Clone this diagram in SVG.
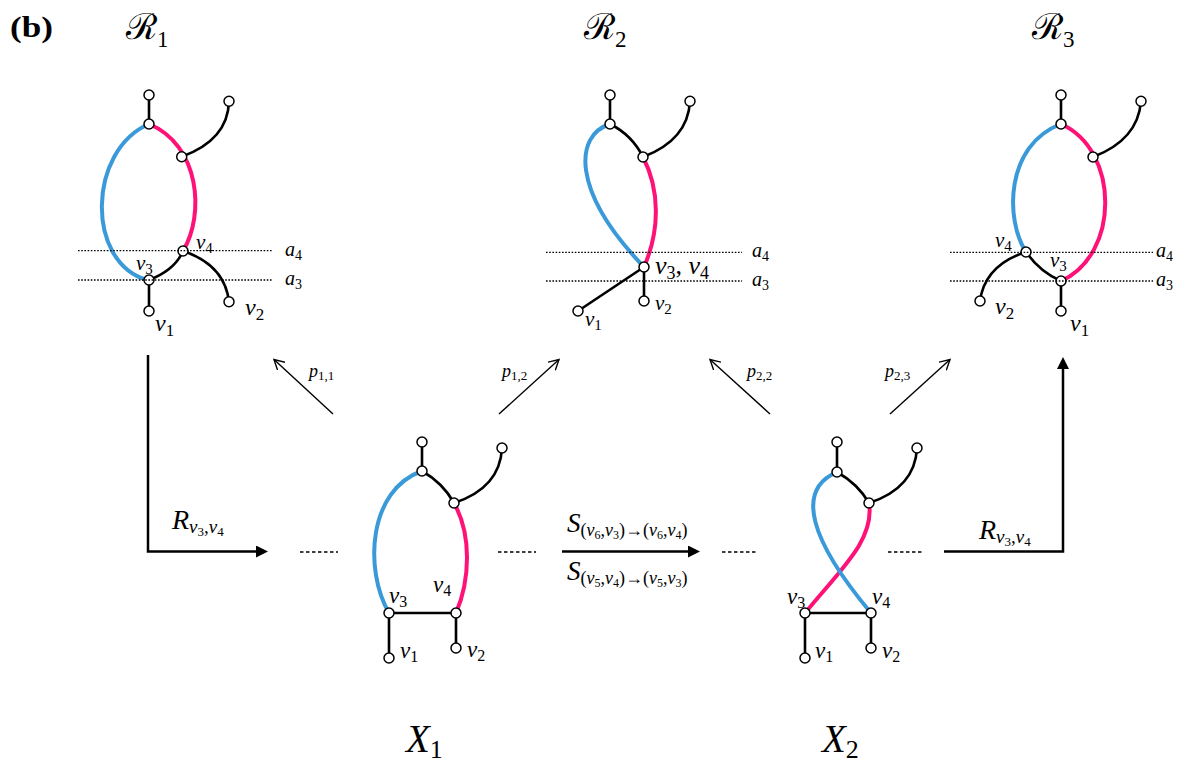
<svg xmlns="http://www.w3.org/2000/svg" width="1179" height="762" viewBox="0 0 1179 762">
<style>
.bl{fill:none;stroke:#3a9ad9;stroke-width:4;stroke-linecap:round}
.pk{fill:none;stroke:#ff1278;stroke-width:4;stroke-linecap:round}
.k{fill:none;stroke:#000;stroke-width:2.6;stroke-linecap:round}
.nd{fill:#fff;stroke:#000;stroke-width:1.5}
.dot{stroke:#000;stroke-width:1.3;stroke-dasharray:1.6 1.6;fill:none}
.dash{stroke:#000;stroke-width:1.3;stroke-dasharray:3.5 2.5;fill:none}
.ar{stroke:#000;stroke-width:2.5;fill:none}
.pr{stroke:#000;stroke-width:1.4;fill:none}
text{font-family:"Liberation Serif","DejaVu Serif",serif;fill:#000}
.m{font-style:italic}
.up{font-style:normal}
.v{font-size:24px}
.vs{font-size:21px}
.vx{font-size:23px}
.a{font-size:20px}
.p{font-size:18px}
.cal{font-family:"DejaVu Serif","Liberation Serif",serif;font-size:36px}
</style>
<defs>
<marker id="fa" viewBox="0 0 12 12" refX="0" refY="6" markerWidth="12" markerHeight="12" markerUnits="userSpaceOnUse" orient="auto"><path d="M0,0 L12,6 L0,12 z" fill="#000"/></marker>
<marker id="oa" viewBox="0 0 12 12" refX="10" refY="6" markerWidth="12" markerHeight="12" markerUnits="userSpaceOnUse" orient="auto"><path d="M0,0.5 L10,6 L0,11.5" fill="none" stroke="#000" stroke-width="1.4"/></marker>
</defs>
<rect width="1179" height="762" fill="#fff"/>

<text x="10" y="37" textLength="43" lengthAdjust="spacingAndGlyphs" style="font-size:29px;font-weight:bold">(b)</text>

<g id="R1">
<text class="cal" x="126" y="39">ℛ<tspan class="up" style="font-family:'Liberation Serif',serif;font-size:23px" dy="8">1</tspan></text>
<path class="bl" d="M149,124 C88,150 85,262 147,280"/>
<path class="pk" d="M149,124 C200,145 205,215 183,251"/>
<path class="k" d="M149,95 L149,124"/>
<path class="k" d="M181.7,156.7 Q228,140 229,101"/>
<path class="k" d="M149,280 Q175,270 183,251"/>
<path class="k" d="M183,251 Q225,265 229,302"/>
<path class="k" d="M149,280 L149,311"/>
<circle class="nd" cx="149" cy="95" r="5"/>
<circle class="nd" cx="149" cy="124" r="5"/>
<circle class="nd" cx="181.7" cy="156.7" r="5"/>
<circle class="nd" cx="229" cy="101.3" r="5"/>
<circle class="nd" cx="183" cy="251" r="5"/>
<circle class="nd" cx="149" cy="280" r="5"/>
<circle class="nd" cx="149" cy="311" r="5"/>
<circle class="nd" cx="229" cy="301.7" r="5"/>
<line class="dot" x1="78" y1="250.7" x2="273" y2="250.7"/>
<line class="dot" x1="78" y1="280" x2="273" y2="280"/>
<text class="m a" x="285" y="256">a<tspan class="up" font-size="14" dy="4">4</tspan></text>
<text class="m a" x="285" y="285">a<tspan class="up" font-size="14" dy="4">3</tspan></text>
<text class="m vs" x="196" y="249">v<tspan class="up" font-size="15" dy="4">4</tspan></text>
<text class="m vs" x="136" y="270">v<tspan class="up" font-size="15" dy="4">3</tspan></text>
<text class="m v" x="155" y="331">v<tspan class="up" font-size="17" dy="5">1</tspan></text>
<text class="m v" x="245" y="315">v<tspan class="up" font-size="17" dy="5">2</tspan></text>
</g>

<g id="R2">
<text class="cal" x="584" y="39">ℛ<tspan class="up" style="font-family:'Liberation Serif',serif;font-size:23px" dy="8">2</tspan></text>
<path class="bl" d="M610,124 C575,135 570,190 644,267"/>
<path class="pk" d="M643,157 C660,190 660,230 644,267"/>
<path class="k" d="M610,95 L610,124"/>
<path class="k" d="M610,124 Q632,135 643,157"/>
<path class="k" d="M643,157 Q688,140 690,101"/>
<path class="k" d="M644,267 L578,311"/>
<path class="k" d="M644,267 L644,301"/>
<circle class="nd" cx="610" cy="95" r="5"/>
<circle class="nd" cx="610" cy="124" r="5"/>
<circle class="nd" cx="643" cy="157" r="5"/>
<circle class="nd" cx="690" cy="101.3" r="5"/>
<circle class="nd" cx="644" cy="267" r="5"/>
<circle class="nd" cx="578" cy="311" r="5"/>
<circle class="nd" cx="644" cy="301" r="5"/>
<line class="dot" x1="546" y1="252.3" x2="742" y2="252.3"/>
<line class="dot" x1="546" y1="281" x2="742" y2="281"/>
<text class="m a" x="752" y="257">a<tspan class="up" font-size="14" dy="4">4</tspan></text>
<text class="m a" x="752" y="286">a<tspan class="up" font-size="14" dy="4">3</tspan></text>
<text class="m" x="655" y="274" font-size="26">v<tspan class="up" font-size="18" dy="5">3</tspan><tspan class="up" dy="-5">, </tspan>v<tspan class="up" font-size="18" dy="5">4</tspan></text>
<text class="m vs" x="585" y="326">v<tspan class="up" font-size="15" dy="4">1</tspan></text>
<text class="m vs" x="655" y="310">v<tspan class="up" font-size="15" dy="4">2</tspan></text>
</g>

<g id="R3">
<text class="cal" x="1032" y="39">ℛ<tspan class="up" style="font-family:'Liberation Serif',serif;font-size:23px" dy="8">3</tspan></text>
<path class="bl" d="M1061,124 C1005,145 1005,220 1026,252"/>
<path class="pk" d="M1061,124 C1120,150 1120,255 1061,281"/>
<path class="k" d="M1061,95 L1061,124"/>
<path class="k" d="M1093,157 Q1138,140 1141,101"/>
<path class="k" d="M1026,252 Q1040,272 1061,281"/>
<path class="k" d="M1026,252 Q985,265 980,301"/>
<path class="k" d="M1061,281 L1061,311"/>
<circle class="nd" cx="1061" cy="95" r="5"/>
<circle class="nd" cx="1061" cy="124" r="5"/>
<circle class="nd" cx="1093" cy="157" r="5"/>
<circle class="nd" cx="1141" cy="101.3" r="5"/>
<circle class="nd" cx="1026" cy="252" r="5"/>
<circle class="nd" cx="1061" cy="281" r="5"/>
<circle class="nd" cx="1061" cy="311" r="5"/>
<circle class="nd" cx="980" cy="301" r="5"/>
<line class="dot" x1="950" y1="252.3" x2="1153" y2="252.3"/>
<line class="dot" x1="950" y1="281" x2="1153" y2="281"/>
<text class="m a" x="1156" y="257">a<tspan class="up" font-size="14" dy="4">4</tspan></text>
<text class="m a" x="1156" y="286">a<tspan class="up" font-size="14" dy="4">3</tspan></text>
<text class="m vs" x="995" y="247">v<tspan class="up" font-size="15" dy="4">4</tspan></text>
<text class="m vs" x="1050" y="267">v<tspan class="up" font-size="15" dy="4">3</tspan></text>
<text class="m v" x="995" y="314">v<tspan class="up" font-size="17" dy="5">2</tspan></text>
<text class="m v" x="1070" y="331">v<tspan class="up" font-size="17" dy="5">1</tspan></text>
</g>

<g id="X1">
<text class="m" x="406" y="752" font-size="39">X<tspan class="up" font-size="26" dy="6">1</tspan></text>
<path class="bl" d="M422,471 C368,490 364,570 389,613"/>
<path class="pk" d="M454,503 C472,535 470,580 456,613"/>
<path class="k" d="M422,442 L422,471"/>
<path class="k" d="M422,471 Q443,483 454,503"/>
<path class="k" d="M454,503 Q500,488 502,448"/>
<path class="k" d="M389,613 L456,613"/>
<path class="k" d="M389,613 L389,658"/>
<path class="k" d="M456,613 L456,648"/>
<circle class="nd" cx="422" cy="442" r="5"/>
<circle class="nd" cx="422" cy="471" r="5"/>
<circle class="nd" cx="454" cy="503" r="5"/>
<circle class="nd" cx="502" cy="448" r="5"/>
<circle class="nd" cx="389" cy="613" r="5"/>
<circle class="nd" cx="456" cy="613" r="5"/>
<circle class="nd" cx="389" cy="658" r="5"/>
<circle class="nd" cx="456" cy="648" r="5"/>
<text class="m vx" x="389" y="603">v<tspan class="up" font-size="16" dy="4">3</tspan></text>
<text class="m vx" x="433" y="592">v<tspan class="up" font-size="16" dy="4">4</tspan></text>
<text class="m vx" x="400" y="658">v<tspan class="up" font-size="16" dy="4">1</tspan></text>
<text class="m vx" x="467" y="657">v<tspan class="up" font-size="16" dy="4">2</tspan></text>
</g>

<g id="X2">
<text class="m" x="822" y="752" font-size="39">X<tspan class="up" font-size="26" dy="6">2</tspan></text>
<path class="pk" d="M869,503 C875,540 840,570 805,613"/>
<path class="bl" d="M837,472 C795,490 810,540 871,613"/>
<path class="k" d="M837,442 L837,472"/>
<path class="k" d="M837,472 Q858,484 869,503"/>
<path class="k" d="M869,503 Q915,488 917,448"/>
<path class="k" d="M805,613 L871,613"/>
<path class="k" d="M805,613 L805,658"/>
<path class="k" d="M871,613 L871,648"/>
<circle class="nd" cx="837" cy="442" r="5"/>
<circle class="nd" cx="837" cy="472" r="5"/>
<circle class="nd" cx="869" cy="503" r="5"/>
<circle class="nd" cx="917" cy="448" r="5"/>
<circle class="nd" cx="805" cy="613" r="5"/>
<circle class="nd" cx="871" cy="613" r="5"/>
<circle class="nd" cx="805" cy="658" r="5"/>
<circle class="nd" cx="871" cy="648" r="5"/>
<text class="m vx" x="787" y="604">v<tspan class="up" font-size="16" dy="4">3</tspan></text>
<text class="m vx" x="872" y="604">v<tspan class="up" font-size="16" dy="4">4</tspan></text>
<text class="m vx" x="815" y="658">v<tspan class="up" font-size="16" dy="4">1</tspan></text>
<text class="m vx" x="882" y="658">v<tspan class="up" font-size="16" dy="4">2</tspan></text>
</g>

<g id="connectors">
<path class="ar" d="M148,355 L148,551.5 L256,551.5" marker-end="url(#fa)"/>
<path class="ar" d="M562,551.5 L688,551.5" marker-end="url(#fa)"/>
<path class="ar" d="M944,551.5 L1063,551.5 L1063,369" marker-end="url(#fa)"/>
<line class="dash" x1="300" y1="552" x2="338" y2="552"/>
<line class="dash" x1="498" y1="552" x2="536" y2="552"/>
<line class="dash" x1="722" y1="552" x2="758" y2="552"/>
<line class="dash" x1="888" y1="552" x2="922" y2="552"/>
<line class="pr" x1="333" y1="414" x2="274" y2="359.5" marker-end="url(#oa)"/>
<line class="pr" x1="499" y1="414" x2="559" y2="359.5" marker-end="url(#oa)"/>
<line class="pr" x1="770" y1="414" x2="710" y2="359.5" marker-end="url(#oa)"/>
<line class="pr" x1="890" y1="414" x2="950" y2="359.5" marker-end="url(#oa)"/>
<text class="m p" x="309" y="377">p<tspan class="up" font-size="13" dy="3">1,1</tspan></text>
<text class="m p" x="502" y="377">p<tspan class="up" font-size="13" dy="3">1,2</tspan></text>
<text class="m p" x="747" y="377">p<tspan class="up" font-size="13" dy="3">2,2</tspan></text>
<text class="m p" x="885" y="377">p<tspan class="up" font-size="13" dy="3">2,3</tspan></text>
<text class="m" x="172" y="529" font-size="28">R<tspan font-size="19" dy="4">v</tspan><tspan class="up" font-size="13" dy="3">3</tspan><tspan class="up" font-size="19" dy="-3">,</tspan><tspan font-size="19">v</tspan><tspan class="up" font-size="13" dy="3">4</tspan></text>
<text class="m" x="979" y="539" font-size="28">R<tspan font-size="19" dy="4">v</tspan><tspan class="up" font-size="13" dy="3">3</tspan><tspan class="up" font-size="19" dy="-3">,</tspan><tspan font-size="19">v</tspan><tspan class="up" font-size="13" dy="3">4</tspan></text>
<text class="m" x="567" y="532" font-size="27">S<tspan class="up" font-size="18" dy="4">(</tspan><tspan font-size="18">v</tspan><tspan class="up" font-size="12" dy="3">6</tspan><tspan class="up" font-size="18" dy="-3">,</tspan><tspan font-size="18">v</tspan><tspan class="up" font-size="12" dy="3">3</tspan><tspan class="up" font-size="18" dy="-3">)→(</tspan><tspan font-size="18">v</tspan><tspan class="up" font-size="12" dy="3">6</tspan><tspan class="up" font-size="18" dy="-3">,</tspan><tspan font-size="18">v</tspan><tspan class="up" font-size="12" dy="3">4</tspan><tspan class="up" font-size="18" dy="-3">)</tspan></text>
<text class="m" x="567" y="580" font-size="27">S<tspan class="up" font-size="18" dy="4">(</tspan><tspan font-size="18">v</tspan><tspan class="up" font-size="12" dy="3">5</tspan><tspan class="up" font-size="18" dy="-3">,</tspan><tspan font-size="18">v</tspan><tspan class="up" font-size="12" dy="3">4</tspan><tspan class="up" font-size="18" dy="-3">)→(</tspan><tspan font-size="18">v</tspan><tspan class="up" font-size="12" dy="3">5</tspan><tspan class="up" font-size="18" dy="-3">,</tspan><tspan font-size="18">v</tspan><tspan class="up" font-size="12" dy="3">3</tspan><tspan class="up" font-size="18" dy="-3">)</tspan></text>
</g>
</svg>
